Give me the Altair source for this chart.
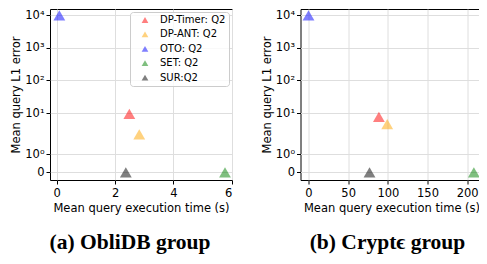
import math
import altair as alt
import pandas as pd

# ---- data ----
methods = ["DP-Timer: Q2", "DP-ANT: Q2", "OTO: Q2", "SET: Q2", "SUR:Q2"]
colors = ["#ff0000", "#ffa500", "#0000ff", "#008000", "#000000"]

oblidb_time = [2.49, 2.83, 0.09, 5.77, 2.37]
oblidb_error = [9.5, 2.25, 9700, 0, 0]

crypte_time = [88.7, 99.2, 0.0, 208.4, 76.9]
crypte_error = [7.7, 4.6, 9700, 0, 0]

y_tick_values = [0, 1, 10, 100, 1000, 10000]
y_tick_labels = ["0", "10⁰", "10¹", "10²", "10³", "10⁴"]
left_x_ticks = [0, 2, 4, 6]
right_x_ticks = [0, 50, 100, 150, 200]

captions = ["(a) ObliDB group", "(b) Cryptϵ group"]

# ---- symlog (matplotlib style: linthresh=2, linscale=1) ----
LINTHRESH = 2.0
ADJ = 1.0 / (1.0 - 1.0 / 10.0)


def symlog(v):
    if v <= LINTHRESH:
        return v / LINTHRESH * ADJ
    return ADJ + math.log10(v / LINTHRESH)


SYMLOG_EXPR = (
    f"datum.err <= {LINTHRESH} ? datum.err / {LINTHRESH} * {ADJ} "
    f": {ADJ} + log(datum.err / {LINTHRESH}) / LN10"
)

y_tick_pos = [symlog(v) for v in y_tick_values]
label_expr = "''"
for p, lab in reversed(list(zip(y_tick_pos, y_tick_labels))):
    label_expr = f"abs(datum.value - {p:.6f}) < 0.001 ? '{lab}' : ({label_expr})"

Y_DOMAIN = [-0.235, 4.994]
W, H = 182, 171
FS = 11.5


def make_df(times, errs):
    return pd.DataFrame({"method": methods, "time": times, "err": errs,
                         "idx": list(range(len(methods)))})


def panel(df, xdom, xticks, caption, show_legend, cap_dx):
    legend = None
    if show_legend:
        legend = alt.Legend(
            orient="none", legendX=80, legendY=3, title=None,
            symbolType="triangle-up", symbolSize=45, symbolOpacity=0.5,
            symbolStrokeWidth=0, labelFont="DejaVu Sans", labelFontSize=10,
            labelColor="black", padding=3, rowPadding=4.4, symbolOffset=7,
            labelOffset=10, fillColor="rgba(255,255,255,0.8)",
            strokeColor="#cccccc", cornerRadius=3,
        )
    return (
        alt.Chart(df)
        .transform_calculate(yt=SYMLOG_EXPR)
        .mark_point(shape="triangle-up", filled=True, size=140, opacity=0.5,
                    strokeWidth=0)
        .encode(
            x=alt.X("time:Q",
                    scale=alt.Scale(domain=xdom, nice=False, zero=False),
                    axis=alt.Axis(values=xticks, format="d", labelPadding=3,
                                  titlePadding=4,
                                  title="Mean query execution time (s)")),
            y=alt.Y("yt:Q",
                    scale=alt.Scale(domain=Y_DOMAIN, nice=False, zero=False),
                    axis=alt.Axis(values=y_tick_pos, labelExpr=label_expr,
                                  title="Mean query L1 error")),
            color=alt.Color("method:N",
                            scale=alt.Scale(domain=methods, range=colors),
                            legend=legend),
            order=alt.Order("idx:Q"),
        )
        .properties(
            width=W, height=H,
            title=alt.TitleParams(
                caption, orient="bottom", anchor="middle", frame="group",
                dx=cap_dx, offset=18, font="Liberation Serif", fontSize=21.5,
                fontWeight="bold", color="black",
            ),
        )
    )


left = panel(make_df(oblidb_time, oblidb_error), [-0.23, 6.01], left_x_ticks,
             captions[0], True, -11)
right = panel(make_df(crypte_time, crypte_error), [-10.1, 219.3], right_x_ticks,
              captions[1], False, -4)

chart = (
    alt.hconcat(left, right, spacing=68.5, bounds="flush")
    .resolve_scale(color="independent")
    .resolve_legend(color="independent")
    .properties(padding={"left": 2, "top": 0, "right": -4, "bottom": 0})
    .configure_view(stroke="black", strokeWidth=1)
    .configure_axis(
        domain=False, grid=True, gridColor="#dedede", gridWidth=1,
        tickColor="black", tickSize=4, labelPadding=2,
        labelFont="DejaVu Sans", labelFontSize=FS, labelColor="black",
        titleFont="DejaVu Sans", titleFontSize=FS, titleFontWeight="normal",
        titleColor="black", titlePadding=3,
    )
)

chart.save("out.html", embed_options={"renderer": "svg", "actions": False})
